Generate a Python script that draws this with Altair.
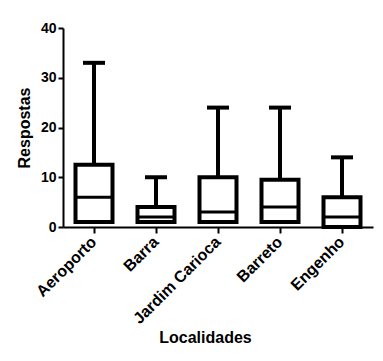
import altair as alt
import pandas as pd

locs = ["Aeroporto", "Barra", "Jardim Carioca", "Barreto", "Engenho"]
mins = [1, 1, 1, 1, 0]
q1s = [1, 1, 1, 1, 0]
meds = [6, 2, 3, 4, 2]
q3s = [12.5, 4, 10, 9.5, 6]
maxs = [33, 10, 24, 24, 14]

df = pd.DataFrame({"loc": locs, "min": mins, "q1": q1s, "med": meds, "q3": q3s, "max": maxs})

FONT = "Liberation Sans"

x = alt.X(
    "loc:N",
    sort=locs,
    scale=alt.Scale(paddingInner=0, paddingOuter=0),
    axis=alt.Axis(
        title="Localidades",
        labelAngle=-45,
        labelAlign="right",
        labelBaseline="middle",
        labelFont=FONT,
        labelFontSize=16,
        labelFontWeight="bold",
        labelColor="black",
        labelPadding=6,
        tickSize=6,
        tickWidth=2,
        tickColor="black",
        domainColor="black",
        domainWidth=2,
        titleFont=FONT,
        titleFontSize=16,
        titleFontWeight="bold",
        titleColor="black",
        titleX=142,
        titleY=110,
        titleBaseline="middle",
    ),
)

yscale = alt.Scale(domain=[0, 40], nice=False)
yaxis = alt.Axis(
    title="Respostas",
    values=[0, 10, 20, 30, 40],
    grid=False,
    labelFont=FONT,
    labelFontSize=14,
    labelFontWeight="bold",
    labelColor="black",
    labelPadding=2,
    tickSize=5,
    tickWidth=2,
    tickColor="black",
    domainColor="black",
    domainWidth=2,
    titleFont=FONT,
    titleFontSize=16,
    titleFontWeight="bold",
    titleColor="black",
    titlePadding=8,
)

base = alt.Chart(df).encode(x=x)

upper = base.mark_rule(color="black", strokeWidth=4).encode(
    y=alt.Y("q3:Q", scale=yscale, axis=yaxis), y2="max:Q"
)
lower = base.mark_rule(color="black", strokeWidth=4).encode(
    y=alt.Y("min:Q", scale=yscale, axis=yaxis), y2="q1:Q"
)
box = base.mark_bar(size=37, fill="white", stroke="black", strokeWidth=4, opacity=1).encode(
    y=alt.Y("q1:Q", scale=yscale, axis=yaxis), y2="q3:Q"
)
med = base.mark_tick(color="black", size=38, thickness=3, orient="horizontal", opacity=1).encode(
    y=alt.Y("med:Q", scale=yscale, axis=yaxis)
)
cap = base.mark_tick(color="black", size=22, thickness=4, orient="horizontal", opacity=1).encode(
    y=alt.Y("max:Q", scale=yscale, axis=yaxis)
)

chart = (
    alt.layer(upper, lower, box, med, cap)
    .properties(
        width=310,
        height=199,
        autosize=alt.AutoSizeParams(type="none"),
        padding={"left": 55, "top": 20, "right": 2, "bottom": 126},
        background="white",
    )
    .configure_view(stroke=None)
)

chart.save("out.html", embed_options={"renderer": "svg", "actions": False})
